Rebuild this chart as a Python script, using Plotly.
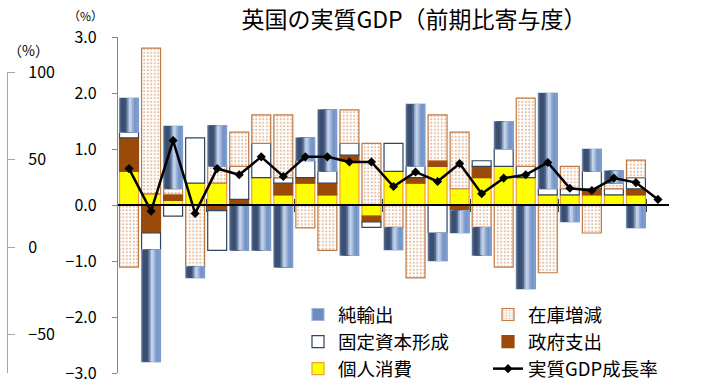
import plotly.graph_objects as go
import numpy as np

# ---------------- data ----------------
quarters = ["2012Q1", "2012Q2", "2012Q3", "2012Q4",
            "2013Q1", "2013Q2", "2013Q3", "2013Q4",
            "2014Q1", "2014Q2", "2014Q3", "2014Q4",
            "2015Q1", "2015Q2", "2015Q3", "2015Q4",
            "2016Q1", "2016Q2", "2016Q3", "2016Q4",
            "2017Q1", "2017Q2", "2017Q3", "2017Q4",
            "2018Q1"]

consumption = [0.60, 0.20, 0.08, 0.39, 0.39, 0.00, 0.49, 0.18, 0.39, 0.18, 0.79, -0.20,
               0.60, 0.39, 0.69, 0.29, 0.49, 0.69, 0.49, 0.18, 0.18, 0.18, 0.18, 0.18]
government = [0.60, -0.50, 0.11, 0.00, -0.10, 0.10, 0.00, 0.21, 0.10, 0.21, 0.10, -0.10,
              0.00, 0.10, 0.10, -0.10, 0.20, 0.00, 0.00, 0.00, 0.00, 0.11, 0.00, 0.11]
investment = [0.10, -0.30, -0.20, 0.81, -0.71, 0.59, 0.61, 0.10, 0.30, 0.21, 0.21, -0.10,
              0.50, 0.20, -0.50, 0.00, 0.10, 0.31, 0.20, 0.11, 0.11, 0.31, 0.11, 0.20]
inventory = [-1.11, 2.60, 0.10, -1.10, 0.30, 0.61, 0.51, 1.12, -0.41, -0.81, 0.60, 1.10,
             -0.40, -1.30, 0.82, 1.01, -0.40, -1.11, 1.22, -1.21, 0.40, -0.50, 0.10, 0.31]
net_exports = [0.61, -2.00, 1.12, -0.20, 0.73, -0.81, -0.81, -1.11, 0.41, 1.10, -0.90, 0.00,
               -0.40, 1.11, -0.50, -0.40, -0.50, 0.49, -1.50, 1.71, -0.30, 0.40, 0.22, -0.41]
gdp_growth = [0.65, -0.11, 1.15, -0.15, 0.65, 0.54, 0.86, 0.51, 0.86, 0.86, 0.77, 0.77,
              0.33, 0.59, 0.42, 0.74, 0.20, 0.48, 0.54, 0.76, 0.30, 0.26, 0.48, 0.40, 0.10]

y_ticks = [-3, -2, -1, 0, 1, 2, 3]
left_ticks = [-50, 0, 50, 100]

# ---------------- layout helpers ----------------
W, H = 702, 379
ML, MR, MT, MB = 7, 33, 37, 6
PW = W - ML - MR
PH = H - MT - MB
x_dom0 = (118 - ML) / PW

FONT = "Noto Sans CJK JP"
BAR_W = 0.86

n_all = len(quarters)
n_bar = len(consumption)
x_all = np.arange(n_all)
x_bar = np.arange(n_bar)

series = [
    dict(name="個人消費", vals=consumption, color="#FFFF00", line="#F0A030", legend="legend", rank=3),
    dict(name="政府支出", vals=government, color="#9C4A0A", line="#9C4A0A", legend="legend2", rank=2),
    dict(name="固定資本形成", vals=investment, color="#FFFFFF", line="#33445C", legend="legend", rank=2),
    dict(name="在庫増減", vals=inventory, color="#FFFFFF", line="#C07A45", legend="legend2", rank=1),
    dict(name="純輸出", vals=net_exports, color="#6F8CC0", line="#9FB6D8", legend="legend", rank=1),
]

# stacking bases (positive and negative parts stacked separately)
pos = np.zeros(n_bar)
neg = np.zeros(n_bar)
for s in series:
    b = []
    for i, v in enumerate(s["vals"]):
        if v >= 0:
            b.append(pos[i]); pos[i] += v
        else:
            b.append(neg[i]); neg[i] += v
    s["base"] = b

fig = go.Figure()

for s in series:
    yv = [v if v != 0 else None for v in s["vals"]]
    kw = {}
    if s["name"] == "在庫増減":
        kw["marker_pattern"] = dict(shape=".", fgcolor="#C8804A", bgcolor="#FFFFFF",
                                    size=3.5, solidity=0.3)
    fig.add_trace(go.Bar(
        x=x_bar, y=yv, base=s["base"], width=BAR_W, name=s["name"],
        customdata=quarters[:n_bar],
        marker_color=s["color"], marker_line_color=s["line"], marker_line_width=1.2,
        legend=s["legend"], legendrank=s["rank"],
        hovertemplate="%{customdata}<br>" + s["name"] + ": %{y:.2f}<extra></extra>",
        **kw))
    if s["name"] == "純輸出":
        grad = ["#4E6386", "#3B4F70", "#3B4F70", "#3E5374", "#566C92", "#93A8CA",
                "#C6D3E8", "#B6C7E3", "#93ACD6", "#7C99CA", "#7393C6", "#7E9DCD"]
        k_n = len(grad)
        for k, c in enumerate(grad):
            fig.add_trace(go.Bar(
                x=x_bar, y=yv, base=s["base"],
                width=BAR_W * (k_n - k) / k_n,
                offset=-BAR_W / 2 + BAR_W * k / k_n,
                marker_color=c, marker_line_width=0,
                showlegend=False, hoverinfo="skip"))

fig.add_trace(go.Scatter(
    x=x_all, y=gdp_growth, name="実質GDP成長率", mode="lines+markers",
    customdata=quarters,
    line=dict(color="#000000", width=2.5),
    marker=dict(symbol="diamond", size=7, color="#000000"),
    legend="legend2", legendrank=3,
    hovertemplate="%{customdata}<br>実質GDP成長率: %{y:.2f}<extra></extra>"))

# helper traces so the extra axes are drawn
fig.add_trace(go.Scatter(x=[None], y=[None], xaxis="x2", yaxis="y", showlegend=False, hoverinfo="skip"))
fig.add_trace(go.Scatter(x=[None], y=[None], xaxis="x", yaxis="y2", showlegend=False, hoverinfo="skip"))

boundaries = [i + 3.5 for i in range(0, n_all - 4, 4)]

fig.update_layout(
    width=W, height=H,
    margin=dict(l=ML, r=MR, t=MT, b=MB, pad=0, autoexpand=False),
    paper_bgcolor="white", plot_bgcolor="rgba(0,0,0,0)",
    barmode="overlay",
    font=dict(family=FONT, color="#000000", size=16),
    title=dict(text="英国の実質GDP（前期比寄与度）", font=dict(family=FONT, size=23, color="#000000"),
               x=(414 - ML) / PW, xref="paper", xanchor="center",
               y=1 - 20 / H, yref="container", yanchor="middle"),
    xaxis=dict(domain=[x_dom0, 1], range=[-0.5, n_all - 0.5], anchor="free", position=0.5,
               showline=True, linecolor="#000000", linewidth=1.5,
               ticks="outside", ticklen=6, tickcolor="#404040", tickwidth=1,
               tickvals=boundaries, showticklabels=False, showgrid=False, zeroline=False,
               layer="above traces", fixedrange=True),
    xaxis2=dict(overlaying="x", range=[-0.5, n_all - 0.5], anchor="free", position=0.5,
                showline=False, ticks="inside", ticklen=6, tickcolor="#404040", tickwidth=1,
                tickvals=boundaries, showticklabels=False, showgrid=False, zeroline=False,
                layer="above traces"),
    yaxis=dict(domain=[0, 1], range=[-3, 3], tickvals=y_ticks, tickformat=".1f",
               ticks="outside", ticklen=5, tickcolor="#868686", showline=True,
               linecolor="#868686", linewidth=1.3, showgrid=False, zeroline=False,
               anchor="x", tickfont=dict(size=16), ticklabelstandoff=12,
               ticklabeloverflow="allow"),
    yaxis2=dict(domain=[0, (373 - 72) / PH], range=[-72, 100], tickvals=left_ticks,
                anchor="free", position=0, side="right",
                ticks="outside", ticklen=7, tickcolor="#A6A6A6", showline=True,
                linecolor="#A6A6A6", linewidth=1.3, showgrid=False, zeroline=False,
                tickfont=dict(size=16), ticklabelstandoff=10),
    legend=dict(x=(298 - ML) / PW, y=(MT + PH - 296) / PH, xanchor="left", yanchor="top",
                orientation="v", traceorder="normal", font=dict(size=18.5),
                bgcolor="rgba(255,255,255,0)", borderwidth=0, tracegroupgap=0),
    legend2=dict(x=(488 - ML) / PW, y=(MT + PH - 296) / PH, xanchor="left", yanchor="top",
                 orientation="v", traceorder="normal", font=dict(size=18.5),
                 bgcolor="rgba(255,255,255,0)", borderwidth=0, tracegroupgap=0),
    annotations=[
        dict(text="（%）", x=(85 - ML) / PW, y=(MT + PH - 15) / PH, xref="paper", yref="paper",
             showarrow=False, font=dict(size=12), xanchor="center", yanchor="middle"),
        dict(text="（%）", x=(28 - ML) / PW, y=(MT + PH - 50) / PH, xref="paper", yref="paper",
             showarrow=False, font=dict(size=14), xanchor="center", yanchor="middle"),
    ],
    showlegend=True,
)

fig.write_html("out.html")
